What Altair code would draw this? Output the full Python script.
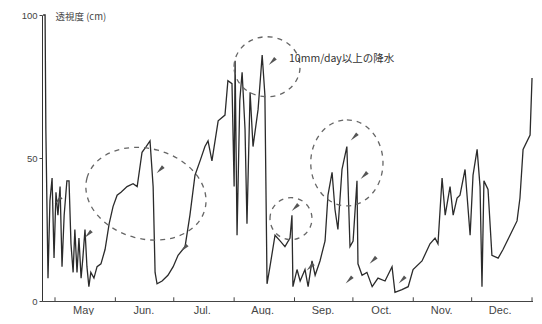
import altair as alt
import pandas as pd

BASE = pd.Timestamp("2001-05-01")

# transparency trace: days since May 1 and value (cm)
days = [-6.1, -5.1, -4.7, -3.6, -2.6, -1.5, -0.5, 0.5, 1.5, 2.6, 3.6, 4.7, 6.1, 7.2, 8.2,
        9.3, 10.2, 11.3, 12.3, 13.4, 14.3, 15.4, 16.4, 17.4, 18.4, 20.0, 21.6, 23.6,
        25.7, 27.8, 29.8, 31.9, 33.9, 37.0, 40.1, 42.2, 44.7, 46.8, 48.8, 50.4, 51.4,
        52.4, 55.0, 58.0, 60.7, 63.2, 66.8, 69.3, 71.9, 74.5, 77.0, 78.6, 80.6, 83.8,
        87.3, 88.8, 90.9, 92.0, 92.5, 93.5, 94.9, 96.1, 97.6, 98.6, 100.2, 101.7,
        104.3, 106.4, 107.8, 108.9, 110.4, 113.0, 115.6, 118.1, 120.7, 121.7, 122.2,
        124.3, 125.9, 128.4, 130.0, 132.0, 133.6, 136.1, 138.7, 140.2, 142.3, 143.8,
        145.3, 147.4, 149.9, 151.5, 153.1, 155.1, 155.6, 157.7, 160.2, 162.9, 165.9,
        169.5, 173.1, 174.6, 178.2, 181.4, 183.9, 188.5, 192.6, 195.2, 196.7, 198.8,
        200.4, 202.9, 204.5, 206.5, 208.0, 210.6, 213.2, 214.7, 216.8, 218.3, 219.3,
        220.3, 222.4, 224.4, 227.6, 230.1, 233.7, 237.3, 238.8, 240.4, 244.0, 245.0]
values = [100, 100, 60, 8, 35, 43, 15, 38, 30, 40, 12, 30, 42, 42, 20,
          10, 25, 10, 22, 8, 15, 25, 12, 5, 10, 8, 12, 13,
          18, 27, 33, 37, 38, 40, 41, 40, 52, 54, 56, 40, 10,
          6, 7, 9, 12, 16, 19, 30, 44, 49, 54, 56, 49, 63,
          65, 77, 76, 40, 84, 23, 70, 80, 60, 27, 73, 54,
          67, 86, 72, 6, 12, 23, 21, 19, 22, 30, 5,
          11, 7, 11, 5, 14, 9, 14, 21, 37, 45, 32,
          25, 46, 54, 19, 21, 42, 13, 9, 10, 5, 8,
          7, 12, 3, 4, 5, 11, 14, 20, 22, 20, 43,
          30, 40, 30, 36, 37, 46, 23, 44, 53, 40, 5,
          42, 39, 16, 15, 18, 23, 28, 36, 53, 58, 78]

# rain (>=10 mm/day) markers
rain_days = [1.5, 17.0, 53.9, 66.2, 111.5, 123.3, 131.0, 153.6, 158.7, 163.3, 151.0, 178.2]
rain_vals = [35.1, 23.3, 45.8, 18.4, 83.7, 32.6, 11.8, 57.3, 43.8, 14.2, 7.3, 7.3]

# dashed ellipses highlighting events
ell_days = [46.7, 108.9, 121.2, 149.9]
ell_vals = [37.5, 81.9, 28.8, 48.3]
ell_size = [14884, 4356, 1764, 7396]
ell_angle = [15, 0, 0, 90]
ell_ratio = [0.74, 0.91, 1.0, 0.84]

month_starts = [(2001, m) for m in range(5, 13)] + [(2002, 1)]

note_day, note_val = 120.2, 84.7
note_text = "10mm/day以上の降水"

def to_date(d):
    return BASE + pd.to_timedelta(d, unit="D")

line_df = pd.DataFrame({"date": [to_date(d) for d in days], "value": values})
rain_df = pd.DataFrame({"date": [to_date(d) for d in rain_days], "value": rain_vals})
ell_df = pd.DataFrame({
    "date": [to_date(d) for d in ell_days],
    "value": ell_vals,
    "size": ell_size,
    "angle": ell_angle,
    "path": [f"M -1 0 A 1 {r} 0 1 1 1 0 A 1 {r} 0 1 1 -1 0" for r in ell_ratio],
})
tick_df = pd.DataFrame({"date": [pd.Timestamp(year=y, month=m, day=1) for y, m in month_starts]})
note_df = pd.DataFrame({"date": [to_date(note_day)], "value": [note_val], "text": [note_text]})

xscale = alt.Scale(domain=[alt.DateTime(year=2001, month=4, date=24, hours=7, minutes=40),
                           alt.DateTime(year=2002, month=1, date=1, hours=12)])
yscale = alt.Scale(domain=[0, 100])

label_expr = ("month(datum.value) == 0 ? '' : (month(datum.value) == 4 ? 'May' : "
              "timeFormat(datum.value, '%b') + '.')")

x_axis = alt.Axis(values=[alt.DateTime(year=y, month=m, date=1) for y, m in month_starts],
                  labelExpr=label_expr, ticks=False, grid=False, title=None,
                  labelOffset=28, labelFont="Liberation Sans", labelFontSize=11,
                  labelColor="#444", labelPadding=3, domainColor="#444",
                  labelFlush=False, labelOverlap=False)
y_axis = alt.Axis(values=[0, 50, 100], grid=False, title="透視度 (cm)", tickSize=3,
                  tickColor="#444", domainColor="#333", labelFont="Liberation Sans",
                  labelFontSize=9.5, labelColor="#444", labelPadding=2,
                  titleAngle=0, titleAlign="left", titleBaseline="middle",
                  titleX=13, titleY=1, titleFont="Noto Sans CJK JP",
                  titleFontSize=9.5, titleFontWeight="normal", titleColor="#444")

line = alt.Chart(line_df).mark_line(color="#2b2b2b", strokeWidth=1.3).encode(
    x=alt.X("date:T", scale=xscale, axis=x_axis),
    y=alt.Y("value:Q", scale=yscale, axis=y_axis),
)

ticks = alt.Chart(tick_df).mark_rule(color="#444", strokeWidth=1).encode(
    x="date:T", y=alt.datum(0), y2=alt.datum(1.3))

ell = alt.Chart(ell_df).mark_point(filled=False, color="#666", strokeWidth=1.3,
                                   strokeDash=[5, 5], opacity=1).encode(
    x="date:T", y="value:Q",
    shape=alt.Shape("path:N", scale=None, legend=None),
    size=alt.Size("size:Q", scale=None, legend=None),
    angle=alt.Angle("angle:Q", scale=None, legend=None),
)

rain = alt.Chart(rain_df).mark_point(filled=True, color="#555", opacity=1,
                                     shape="M 0 -1 L 0.4 1 L -0.4 1 Z",
                                     size=90, angle=225).encode(x="date:T", y="value:Q")

note = alt.Chart(note_df).mark_text(align="left", baseline="middle", font="Noto Sans CJK JP",
                                    fontSize=10.5, color="#333").encode(
    x="date:T", y="value:Q", text="text:N")

chart = alt.layer(line, ticks, ell, rain, note).properties(
    width=491, height=286,
    autosize=alt.AutoSizeParams(type="none"),
    padding={"left": 34, "top": 7, "right": 0, "bottom": 14},
).configure_view(stroke=None)

chart.save("out.html", embed_options={"renderer": "svg", "actions": False})
